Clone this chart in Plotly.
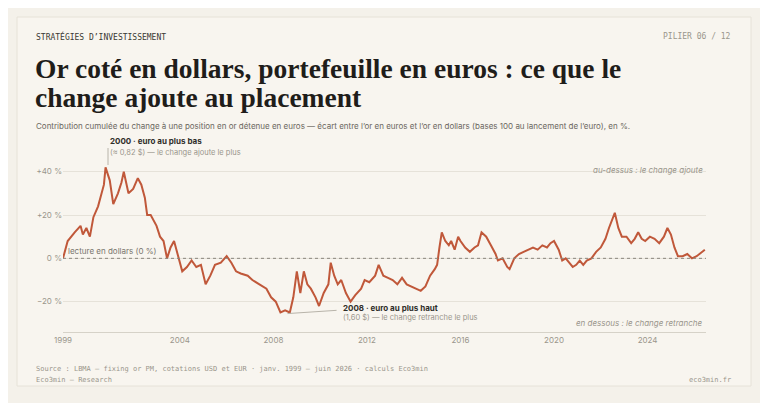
import plotly.graph_objects as go

# années décimales et écart or EUR / or USD (%)
annees = [1999.0, 1999.2, 1999.5, 1999.75, 1999.85, 2000.0, 2000.15, 2000.3, 2000.5, 2000.75, 2000.82,
          2001.0, 2001.15, 2001.35, 2001.5, 2001.6, 2001.8, 2002.0, 2002.2, 2002.35, 2002.5, 2002.6,
          2002.75, 2003.0, 2003.15, 2003.3, 2003.45, 2003.6, 2003.75, 2003.9, 2004.1, 2004.3, 2004.5,
          2004.7, 2004.9, 2005.1, 2005.3, 2005.5, 2005.75, 2006.0, 2006.2, 2006.4, 2006.6, 2006.9,
          2007.1, 2007.4, 2007.7, 2007.9, 2008.1, 2008.3, 2008.5, 2008.7, 2008.85, 2009.0, 2009.15,
          2009.3, 2009.45, 2009.6, 2009.8, 2009.95, 2010.15, 2010.35, 2010.45, 2010.6, 2010.75,
          2010.9, 2011.1, 2011.3, 2011.5, 2011.75, 2011.9, 2012.1, 2012.35, 2012.5, 2012.7, 2012.9,
          2013.1, 2013.3, 2013.5, 2013.7, 2013.9, 2014.1, 2014.3, 2014.5, 2014.7, 2014.9, 2015.0,
          2015.1, 2015.2, 2015.35, 2015.5, 2015.6, 2015.75, 2015.9, 2016.0, 2016.2, 2016.4, 2016.6,
          2016.75, 2016.9, 2017.1, 2017.3, 2017.5, 2017.6, 2017.8, 2018.0, 2018.1, 2018.3, 2018.5,
          2018.7, 2018.9, 2019.1, 2019.3, 2019.5, 2019.7, 2019.85, 2020.0, 2020.2, 2020.35, 2020.5,
          2020.65, 2020.8, 2020.95, 2021.1, 2021.25, 2021.4, 2021.6, 2021.8, 2022.0, 2022.2, 2022.35,
          2022.5, 2022.6, 2022.75, 2022.9, 2023.1, 2023.3, 2023.45, 2023.6, 2023.75, 2023.9, 2024.1,
          2024.3, 2024.5, 2024.7, 2024.85, 2025.0, 2025.15, 2025.3, 2025.5, 2025.7, 2025.9, 2026.1,
          2026.45]
ecart = [0, 8, 12, 15, 11, 14, 10, 19, 24, 34, 42,
         36, 25, 30, 35, 40, 30, 32, 37, 34, 28, 20,
         20, 15, 10, 8, 0, 5, 8, 2, -6, -4, -1,
         -4, -3, -12, -8, -3, -2, 1, -2, -6, -7, -8,
         -10, -12, -14, -18, -20, -25, -24, -25, -18, -6, -16,
         -6, -12, -14, -18, -22, -16, -12, -2, -8, -12,
         -10, -16, -20, -17, -14, -10, -11, -8, -3, -8, -9,
         -10, -12, -9, -12, -13, -14, -15, -13, -8, -5, -3,
         5, 12, 8, 6, 8, 4, 10, 8, 5, 3, 5,
         6, 12, 10, 6, 2, -1, 0, -4, -5, 0, 2,
         3, 4, 5, 4, 6, 5, 7, 8, 4, -1, 0,
         -2, -4, -3, -1, -3, -1, 0, 3, 5, 9, 14,
         18, 21, 14, 10, 10, 7, 9, 12, 9, 8, 10,
         9, 7, 10, 14, 11, 5, 1, 1, 2, 0, 1,
         4]
tick_annees = [1999, 2004, 2008, 2012, 2016, 2020, 2024]
tick_pct = [-20, 0, 20, 40]
tick_pct_txt = ["\u221220 %", "0 %", "+20 %", "+40 %"]

ROUILLE = "#c0583a"
GRIS = "#9a968c"
ENCRE = "#1f1d1a"
MONO = "DejaVu Sans Mono"
SANS = "Inter"

# la page ajoute une marge de 8 px : on décale tout
D = 8
W, H = 768 - D, 403 - D
L, R, T, B = 63 - D, 706 - D, 150 - D, 332 - D
def px(x):
    return (x - D - L) / (R - L)
def py(y):
    return (B - (y - D)) / (B - T)

fig = go.Figure(go.Scatter(x=annees, y=ecart, mode="lines",
                           line=dict(color=ROUILLE, width=2), hoverinfo="skip"))

fig.update_layout(
    width=W, height=H, margin=dict(l=L, r=W - R, t=T, b=H - B),
    paper_bgcolor="#f4f1ea", plot_bgcolor="rgba(0,0,0,0)", showlegend=False,
    font=dict(family=SANS, size=8, color=GRIS),
    xaxis=dict(range=[1999, 2026.5], tickvals=tick_annees, showgrid=False, zeroline=False,
               showline=True, linecolor="#d6d2c8", linewidth=1, ticks="",
               tickfont=dict(size=8, color=GRIS)),
    yaxis=dict(range=[-34, 50], tickvals=tick_pct, ticktext=tick_pct_txt, gridcolor="#e6e2d9",
               zeroline=False, showline=False, ticks="", tickfont=dict(size=8, color=GRIS)),
)

fig.add_hline(y=0, line=dict(color="#8a867d", width=1, dash="dot"))

shapes = [
    dict(type="rect", xref="paper", yref="paper", x0=px(17), x1=px(751), y0=py(386), y1=py(17),
         fillcolor="#f8f5ef", line=dict(color="#e6e2d8", width=1), layer="below"),
    dict(type="line", xref="paper", yref="paper", x0=px(108), x1=px(108), y0=py(165), y1=py(148),
         line=dict(color="#b8b4aa", width=1)),
    dict(type="line", xref="x", yref="y", x0=2008.6, y0=-25.5, x1=2010.7, y1=-24,
         line=dict(color="#b8b4aa", width=1)),
]
for s in shapes:
    fig.add_shape(**s)

def texte(x, y, t, size=8, color=GRIS, family=SANS, xanchor="left", italic=False, bold=False):
    if italic:
        t = "<i>" + t + "</i>"
    if bold:
        t = "<b>" + t + "</b>"
    fig.add_annotation(x=px(x), y=py(y), xref="paper", yref="paper", text=t, showarrow=False,
                       xanchor=xanchor, yanchor="middle", align="left",
                       font=dict(size=size, color=color, family=family))

texte(34, 36, "STRATÉGIES D\u2019INVESTISSEMENT", 8, "#3a3833", MONO)
texte(733, 36, "PILIER 06 / 12", 8, GRIS, MONO, xanchor="right")
texte(33, 68, "Or coté en dollars, portefeuille en euros : ce que le", 27.5, ENCRE, "Liberation Serif", bold=True)
texte(33, 98, "change ajoute au placement", 27.5, ENCRE, "Liberation Serif", bold=True)
texte(34, 126, "Contribution cumulée du change à une position en or détenue en euros \u2014 écart entre l\u2019or en euros et l\u2019or en dollars (bases 100 au lancement de l\u2019euro), en %.",
      8, "#6b6760")
texte(108, 141, "2000 · euro au plus bas", 8, "#2f2d29", bold=True)
texte(108, 152, "(\u2248 0,82 $) \u2014 le change ajoute le plus", 7.5, GRIS)
texte(341, 308, "2008 · euro au plus haut", 8, "#2f2d29", bold=True)
texte(341, 317, "(1,60 $) \u2014 le change retranche le plus", 7.5, GRIS)
texte(66, 251, "lecture en dollars (0 %)", 8, "#7a766e")
texte(705, 170, "au-dessus : le change ajoute", 8, GRIS, italic=True, xanchor="right")
texte(705, 323, "en dessous : le change retranche", 8, GRIS, italic=True, xanchor="right")
texte(34, 369, "Source : LBMA \u2014 fixing or PM, cotations USD et EUR · janv. 1999 \u2013 juin 2026 · calculs Eco3min", 7, GRIS, MONO)
texte(34, 380, "Eco3min \u2014 Research", 7, GRIS, MONO)
texte(733, 380, "eco3min.fr", 7, GRIS, MONO, xanchor="right")

fig.write_html("out.html")
